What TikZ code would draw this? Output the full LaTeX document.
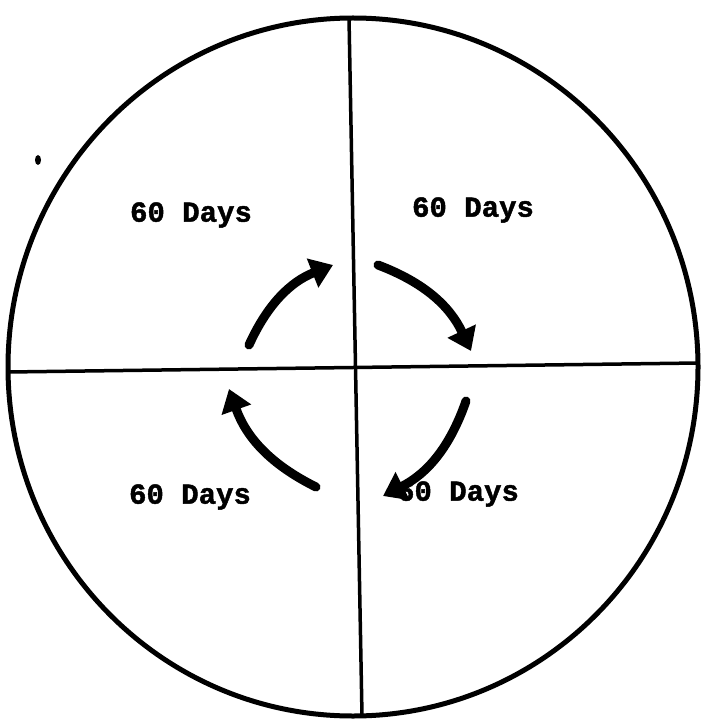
\documentclass[tikz,border=0pt]{standalone}
\usepackage{fontspec}
\newfontfamily\lblfont[FakeBold=1.5]{Liberation Mono Bold}
\usetikzlibrary{arrows.meta}
\tikzset{
  rimline/.style={line width=5pt},
  divline/.style={line width=3.5pt},
  cyclearrow/.style={line width=9pt, line cap=round, -{Triangle[length=22pt,width=30pt]}},
  label/.style={font=\lblfont\fontsize{29}{30}\selectfont, inner sep=0pt}
}
\begin{document}
\begin{tikzpicture}[x=1pt,y=-1pt]
\useasboundingbox (0,0) rectangle (701,719);
\fill[white] (0,0) rectangle (701,719);
% outer circle
\draw[rimline] (353,367) ellipse [x radius=345, y radius=349];
% dividing lines
\coordinate (vt) at (349,18);
\coordinate (vb) at (362,716);
\coordinate (hl) at (8,372);
\coordinate (hr) at (698,363);
\draw[divline] (vt) -- (vb);
\draw[divline] (hl) -- (hr);
% labels
\node[label] (tl) at (191,215) {60 Days};
\node[label] (tr) at (473,210) {60 Days};
\node[label] (bl) at (190,497) {60 Days};
\node[label] (br) at (458,494) {60 Days};
% cycle arrows
\coordinate (a1s) at (249,345);
\coordinate (a1e) at (333,265);
\coordinate (a2s) at (378,265);
\coordinate (a2e) at (471,351);
\coordinate (a3s) at (466,401);
\coordinate (a3e) at (383,496);
\coordinate (a4s) at (316,487);
\coordinate (a4e) at (229,389);
\draw[cyclearrow] (a1s) to[bend left=22] (a1e);
\draw[cyclearrow] (a2s) to[bend left=22] (a2e);
\draw[cyclearrow] (a3s) to[bend left=22] (a3e);
\draw[cyclearrow] (a4s) to[bend left=22] (a4e);
% stray mark
\fill (38,160) ellipse [x radius=3, y radius=5];
\end{tikzpicture}
\end{document}
